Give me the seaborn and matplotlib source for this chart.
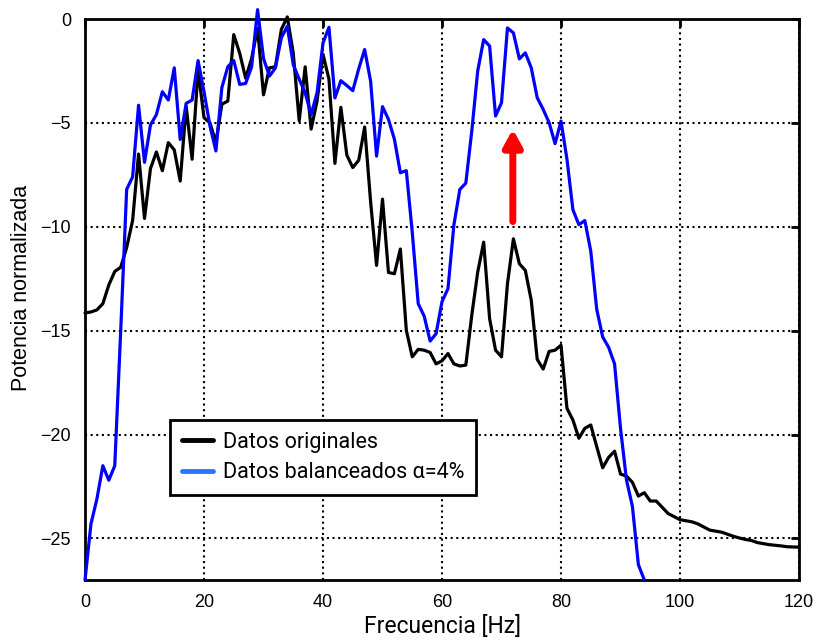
import numpy as np
import pandas as pd
import seaborn as sns
import matplotlib.pyplot as plt
from matplotlib.lines import Line2D

# frequency axis (1 Hz steps)
freq_orig = np.arange(0, 121)
freq_bal = np.arange(0, 95)

# normalised power, original data
pot_orig = [
    -14.15, -14.1, -14.0, -13.7, -12.8, -12.15, -11.95, -11.0, -9.7, -6.5,
    -9.6, -7.2, -6.4, -7.3, -5.95, -6.3, -7.8, -4.2, -6.75, -2.45,
    -4.75, -5.0, -5.95, -4.1, -3.95, -0.75, -1.65, -2.85, -1.9, -0.45,
    -3.65, -2.35, -2.3, -0.5, 0.1, -1.65, -4.9, -2.3, -5.3, -3.95,
    -1.7, -2.9, -6.95, -4.25, -6.55, -7.15, -6.8, -5.2, -8.8, -11.86,
    -8.67, -12.2, -12.26, -11.07, -14.98, -16.26, -15.9, -15.94, -16.05, -16.6,
    -16.45, -16.1, -16.6, -16.7, -16.66, -14.26, -12.18, -10.74, -14.42, -15.94,
    -16.26, -12.74, -10.58, -11.78, -12.1, -13.54, -16.38, -16.85, -16.0, -15.94,
    -15.7, -18.74, -19.3, -20.18, -19.7, -19.54, -20.58, -21.6, -21.1, -20.8,
    -21.9, -22.0, -22.3, -22.96, -22.8, -23.2, -23.2, -23.5, -23.8, -23.95,
    -24.1, -24.15, -24.2, -24.3, -24.45, -24.6, -24.65, -24.7, -24.8, -24.9,
    -24.98, -25.05, -25.1, -25.2, -25.25, -25.3, -25.33, -25.36, -25.4, -25.41,
    -25.42,
]

# normalised power, balanced data (alpha = 4%)
pot_bal = [
    -27.0, -24.3, -23.1, -21.5, -22.2, -21.5, -15.0, -8.2, -7.6, -4.15,
    -6.9, -5.1, -4.6, -3.5, -3.9, -2.35, -5.8, -4.06, -3.9, -2.0,
    -3.5, -5.15, -6.35, -3.3, -2.3, -2.0, -3.15, -3.1, -2.3, 0.45,
    -1.9, -2.75, -2.35, -0.9, -0.35, -2.2, -2.9, -3.55, -4.6, -3.55,
    -1.15, -0.4, -3.8, -2.97, -3.2, -3.45, -2.4, -1.47, -2.99, -6.6,
    -4.22, -4.83, -5.79, -7.4, -7.3, -10.27, -13.7, -14.3, -15.5, -15.15,
    -13.6, -12.98, -9.9, -8.2, -7.9, -5.4, -2.5, -0.99, -1.3, -4.67,
    -4.03, -0.43, -0.67, -1.92, -1.63, -2.35, -3.79, -4.35, -4.99, -6.0,
    -4.91, -6.75, -9.18, -9.9, -9.7, -11.17, -13.97, -15.3, -15.8, -16.6,
    -19.7, -22.18, -23.46, -26.26, -27.0,
]

legend_labels = ["Datos originales", "Datos balanceados \u03b1=4%"]
x_ticks = [0, 20, 40, 60, 80, 100, 120]
y_ticks = [0, -5, -10, -15, -20, -25]

df_orig = pd.DataFrame({"f": freq_orig, "p": pot_orig})
df_bal = pd.DataFrame({"f": freq_bal, "p": pot_bal})

sns.set_style("white")
plt.rcParams["font.family"] = ["Liberation Sans", "DejaVu Sans"]
plt.rcParams["text.color"] = "black"
plt.rcParams["axes.labelcolor"] = "black"
plt.rcParams["xtick.color"] = "black"
plt.rcParams["ytick.color"] = "black"

fig = plt.figure(figsize=(8.19, 6.42), dpi=100)
ax = fig.add_axes([0.1038, 0.0966, 0.8718, 0.8738])

sns.lineplot(data=df_orig, x="f", y="p", ax=ax, color="black", lw=2.3,
             estimator=None, sort=False, clip_on=False, zorder=3)
sns.lineplot(data=df_bal, x="f", y="p", ax=ax, color="#0000ff", lw=2.3,
             estimator=None, sort=False, clip_on=False, zorder=4)

ax.set_xlim(0, 120)
ax.set_ylim(-27, 0)
ax.set_xticks(x_ticks)
ax.set_yticks(y_ticks)
ax.grid(True, color="black", linestyle=(0, (1, 1.7)), linewidth=1.5)
ax.tick_params(direction="in", length=6, width=2, top=True, right=True,
               labelsize=13, pad=10, colors="black")
for s in ax.spines.values():
    s.set_linewidth(2)
    s.set_color("black")

ax.set_xlabel("Frecuencia [Hz]", fontsize=16.5, family=["Roboto", "DejaVu Sans"],
              labelpad=3, color="black")
ax.set_ylabel("Potencia normalizada", fontsize=15.5, color="black")
ax.yaxis.set_label_coords(-0.074, 0.52)

# red arrow marking the rise of the 70 Hz band
ax.annotate("", xy=(71.9, -5.3), xytext=(71.9, -9.75),
            arrowprops=dict(arrowstyle="-|>,head_width=0.55,head_length=1.0",
                            color="red", lw=5, capstyle="round",
                            shrinkA=0, shrinkB=0), zorder=6)

handles = [Line2D([], [], color="black", lw=3.5),
           Line2D([], [], color="#2a78ff", lw=3.5)]
leg = ax.legend(handles, legend_labels, loc="lower left",
                bbox_to_anchor=(0.119, 0.151), borderaxespad=0,
                fancybox=False, framealpha=1, edgecolor="black",
                prop={"family": ["Roboto", "DejaVu Sans"], "size": 15.5},
                handlelength=1.45, handletextpad=0.45, borderpad=0.55,
                labelspacing=0.45)
leg.get_frame().set_linewidth(2)
leg.set_zorder(7)
for t in leg.get_texts():
    t.set_color("black")

fig.savefig("out.png", dpi=100)
